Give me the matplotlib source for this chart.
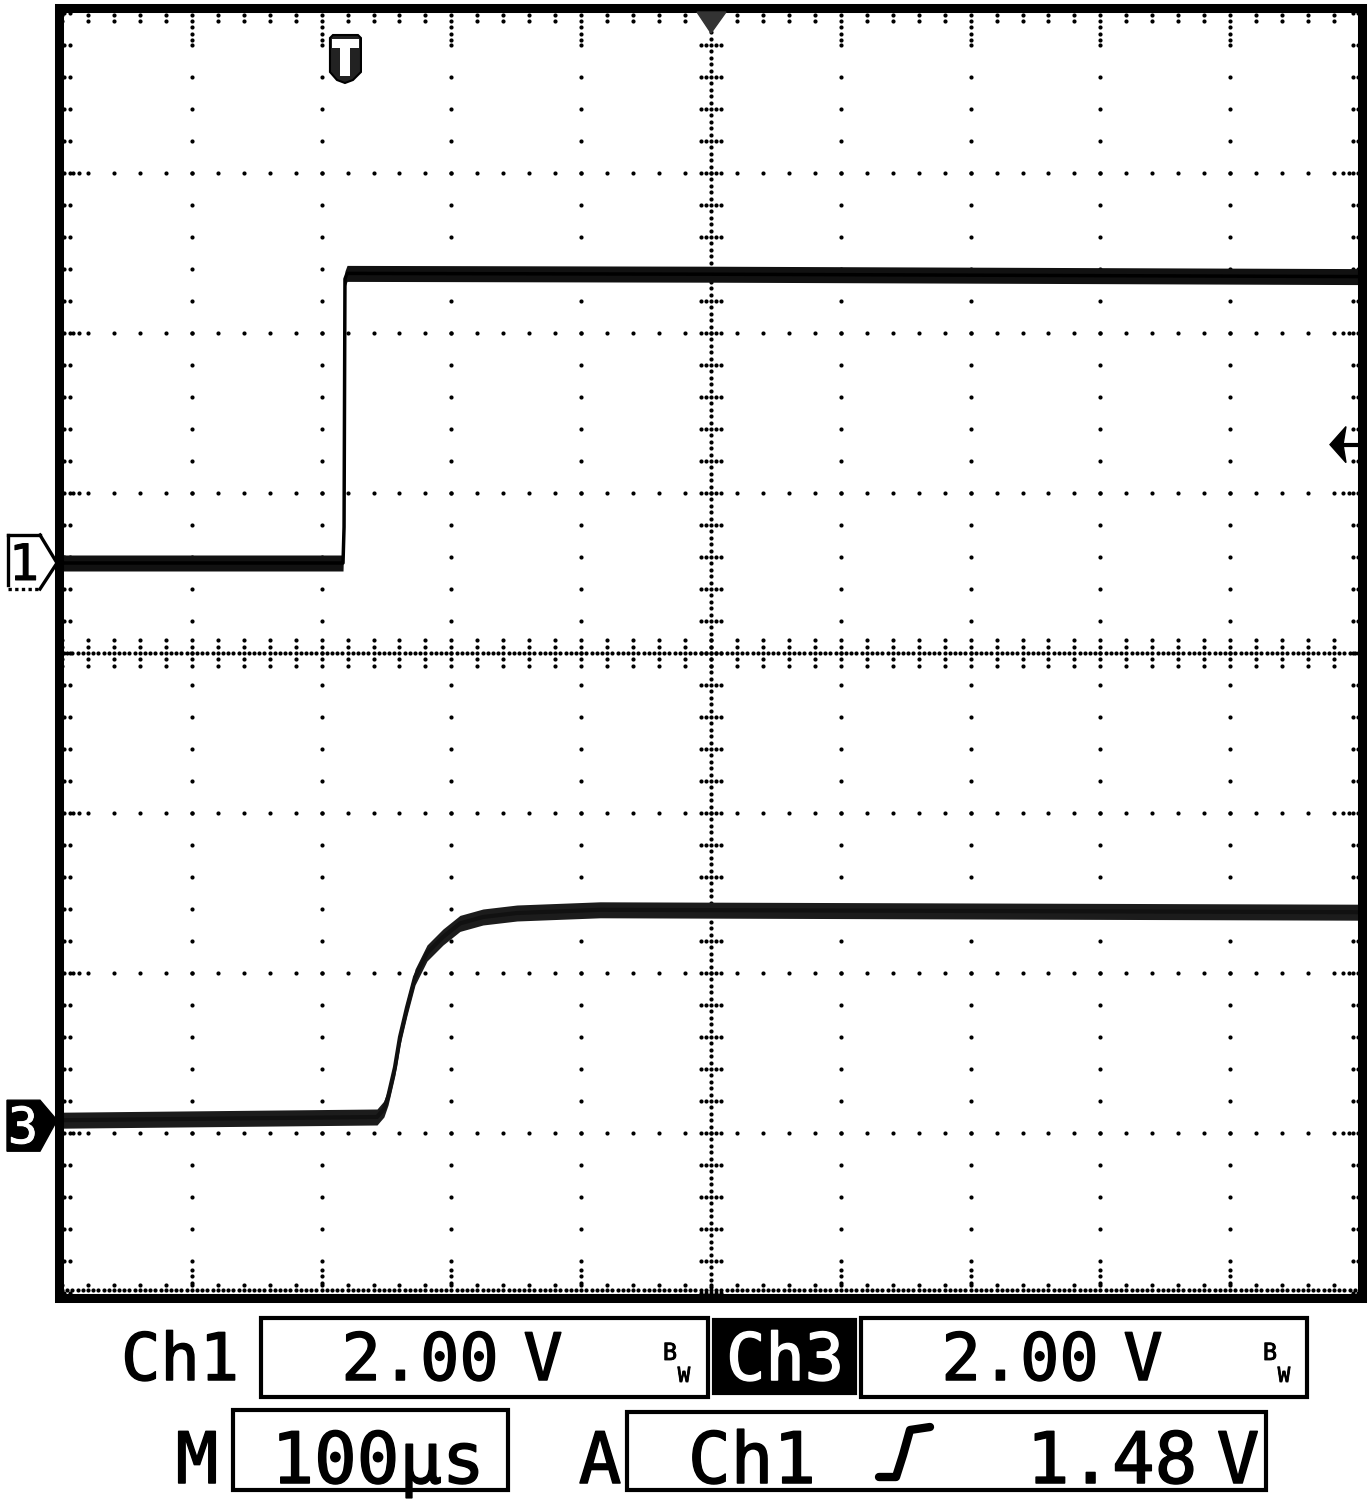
import numpy as np
import matplotlib.pyplot as plt
import matplotlib.patheffects as pe
from matplotlib.patches import Rectangle, Polygon
from matplotlib.lines import Line2D

# values (time in microseconds, volts)
ch1_t_us = [-500, -283.5, -282.7, -282.0, -280.4, 0, 500]
ch1_v = [0.0, 0.0, 0.45, 3.55, 3.62, 3.61, 3.58]

ch3_t_us = [-500, -257.3, -252.0, -248.8, -243.5, -239.6, -234.2, -228.0,
            -218.8, -206.5, -193.4, -175.7, -149.5, -85.5, 500]
ch3_v = [0.0, 0.04, 0.14, 0.29, 0.66, 1.04, 1.41, 1.79,
         2.09, 2.29, 2.46, 2.54, 2.59, 2.63, 2.60]

volts_per_div = 2.0
timebase_us = 100
ch1_ground_div = 0.5625
ch3_ground_div = -2.92
trigger_level_v = 1.48
trigger_time_us = -282.0

W, H = 1372, 1500
MONO = 'DejaVu Sans Mono'


def P(x, y):
    # pixel (from top-left) -> figure fraction
    return (x / W, 1 - y / H)


fig = plt.figure(figsize=(W / 100, H / 100), dpi=100)
ax = fig.add_axes([62 / W, 1 - 1293 / H, (1360 - 62) / W, (1293 - 13) / H])
ax.set_xlim(-5 * timebase_us, 5 * timebase_us)
ax.set_ylim(-4, 4)
ax.axis('off')


def data_px(t, d):
    x, y = ax.transData.transform((t, d))
    return x, H - y


# ---- graticule dots ----
us_px = timebase_us / 129.8
div_px = 1 / 160.0
minor_x = np.arange(-500, 501, 20)
minor_y = np.round(np.arange(-4, 4.001, 0.2), 3)
pts = []
for xm in range(-400, 401, 100):
    if xm == 0:
        continue
    for y in minor_y[1:-1]:
        pts.append((xm, y))
    for k in range(1, 4):
        pts.append((xm, 4 - (1.25 + k) * 6.4 * div_px))
        pts.append((xm, -4 + (0.6 + k) * 6.4 * div_px))
for ym in range(-3, 4):
    if ym == 0:
        continue
    for x in minor_x[1:-1]:
        pts.append((x, ym))
    for k in range(1, 3):
        pts.append((-500 + (6.2 + 5.2 * k) * us_px, ym))
        pts.append((500 - (6.2 + 5.2 * k) * us_px, ym))
# center cross
for y in np.arange(-4, 4.0001, 0.04):
    pts.append((0, y))
for x in np.arange(-500, 500.001, 4):
    pts.append((x, 0))
for y in minor_y:
    for dx in (-8, -4, 4, 8):
        pts.append((dx, y))
for x in minor_x:
    for dy in (-0.08, -0.04, 0.04, 0.08):
        pts.append((x, dy))
# border ticks
for y in minor_y:
    pts.append((-500 + 2.0 * us_px, y))
    pts.append((-500 + 7.5 * us_px, y))
    pts.append((500 - 7.5 * us_px, y))
    pts.append((500 - 2.5 * us_px, y))
for x in minor_x:
    pts.append((x, 4 - 1.6 * div_px))
    pts.append((x, 4 - 8.0 * div_px))
    pts.append((x, -4 + 8.0 * div_px))
for x in np.arange(-500, 500.001, 4):
    pts.append((x, -4 + 3.0 * div_px))
pts = np.array(pts)
ax.scatter(pts[:, 0], pts[:, 1], s=9, c='black', linewidths=0, zorder=2)

# ---- traces ----
band = 0.05
y1 = ch1_ground_div + np.array(ch1_v) / volts_per_div
y3 = ch3_ground_div + np.array(ch3_v) / volts_per_div
ax.fill_between(ch1_t_us, y1 - band, y1 + band, color='#111111', lw=0, zorder=3)
ax.plot(ch1_t_us, y1, color='black', lw=2.5, zorder=4)
ax.fill_between(ch3_t_us, y3 - band, y3 + band, color='#1c1c1c', lw=0, zorder=3)
ax.plot(ch3_t_us, y3, color='#111111', lw=3, zorder=4,
        solid_joinstyle='round')

# ---- frame ----
fig.add_artist(Rectangle(P(59, 1297.5), (1362 - 59) / W, (1297.5 - 8) / H,
                         transform=fig.transFigure, fill=False, lw=6.5,
                         ec='black', zorder=10))

# trigger position marker (top centre)
cx, _ = data_px(0, 4)
fig.add_artist(Polygon([P(cx - 14, 12), P(cx + 15, 12), P(cx, 33)],
                       closed=True, transform=fig.transFigure,
                       fc='#333333', ec='#333333', zorder=11))

# trigger point "T" marker
tx, _ = data_px(trigger_time_us, 4)
shield = [(-15, 38), (-12, 35), (13, 35), (16, 38), (16, 72), (8, 80),
          (0, 83), (-8, 80), (-15, 72)]
fig.add_artist(Polygon([P(tx + a, b) for a, b in shield], closed=True,
                       transform=fig.transFigure, fc='#222222', ec='black',
                       lw=1.5, zorder=11))
fig.add_artist(Rectangle(P(tx - 13, 48), 27 / W, 9 / H, transform=fig.transFigure,
                         fc='white', ec='none', zorder=12))
fig.add_artist(Rectangle(P(tx - 5, 76), 10 / W, 28 / H, transform=fig.transFigure,
                         fc='white', ec='none', zorder=12))

# trigger level arrow (right side)
_, ly = data_px(500, ch1_ground_div + trigger_level_v / volts_per_div)
fig.add_artist(Polygon([P(1330, ly), P(1346, ly - 18), P(1343, ly), P(1346, ly + 18)],
                       closed=True, transform=fig.transFigure, fc='black',
                       ec='black', zorder=11))
fig.add_artist(Line2D([1340 / W, 1359 / W], [1 - ly / H, 1 - ly / H],
                      transform=fig.transFigure, color='black', lw=3, zorder=11))

# channel ground markers
gx, g1 = data_px(-500, ch1_ground_div)
fig.add_artist(Polygon([P(gx - 54, g1 - 28), P(gx - 22, g1 - 28), P(gx - 5, g1),
                        P(gx - 22, g1 + 26), P(gx - 54, g1 + 26)], closed=True,
                       transform=fig.transFigure, fc='white', ec='none', zorder=11))
for (a, b) in [((gx - 54, g1 - 28), (gx - 22, g1 - 28)),
               ((gx - 22, g1 - 28), (gx - 5, g1)),
               ((gx - 5, g1), (gx - 22, g1 + 26)),
               ((gx - 54, g1 - 28), (gx - 54, g1 + 22))]:
    fig.add_artist(Line2D([a[0] / W, b[0] / W], [1 - a[1] / H, 1 - b[1] / H],
                          transform=fig.transFigure, color='black', lw=2.4,
                          zorder=12))
fig.add_artist(Line2D([(gx - 54) / W, (gx - 22) / W], [1 - (g1 + 26) / H] * 2,
                      transform=fig.transFigure, color='black', lw=2.4,
                      ls=(0, (1, 1)), zorder=12))
fig.text(*P(gx - 38, g1 + 17), '1', fontsize=36, family=MONO, ha='center',
         va='baseline', color='black', zorder=13,
         path_effects=[pe.withStroke(linewidth=0.7, foreground='black')])

_, g3 = data_px(-500, ch3_ground_div)
fig.add_artist(Polygon([P(gx - 55, g3 - 20), P(gx - 22, g3 - 20), P(gx - 5, g3),
                        P(gx - 22, g3 + 31), P(gx - 55, g3 + 31)], closed=True,
                       transform=fig.transFigure, fc='black', ec='black',
                       zorder=11))
fig.text(*P(gx - 39, g3 + 23), '3', fontsize=36, family=MONO, ha='center',
         va='baseline', color='white', zorder=13,
         path_effects=[pe.withStroke(linewidth=0.7, foreground='white')])


# ---- readout ----
def box(x0, y0, x1, y1, fill=False):
    fig.add_artist(Rectangle(P(x0, y1), (x1 - x0) / W, (y1 - y0) / H,
                             transform=fig.transFigure, fill=fill,
                             fc='black' if fill else 'none', ec='black', lw=3))


def txt(x, y, s, size, color='black', stroke=1.1):
    fig.text(*P(x, y), s, fontsize=size, family=MONO, ha='center',
             va='baseline', color=color,
             path_effects=[pe.withStroke(linewidth=stroke, foreground=color)])


r1, r2 = 1380, 1483
s1, s2 = 47, 51

txt(180, r1, 'Ch1', s1)
box(261, 1318, 708, 1397)
txt(420, r1, '2.00', s1)
txt(543, r1, 'V', s1)
txt(670, 1360, 'B', 17, stroke=0.6)
txt(684, 1382, 'W', 15, stroke=0.6)

box(714, 1320, 855, 1393, fill=True)
txt(785, r1, 'Ch3', s1, color='white')
box(861, 1318, 1307, 1397)
txt(1020, r1, '2.00', s1)
txt(1143, r1, 'V', s1)
txt(1270, 1360, 'B', 17, stroke=0.6)
txt(1284, 1382, 'W', 15, stroke=0.6)

txt(197, r2, 'M', s2)
box(233, 1410, 508, 1490)
txt(378, r2, '100µs', s2)
txt(600, r2, 'A', s2)
box(627, 1412, 1266, 1490)
txt(752, r2, 'Ch1', s2)
slope = [(879, 1477), (896, 1477), (903, 1455), (910, 1430), (930, 1427)]
fig.add_artist(Line2D([p[0] / W for p in slope], [1 - p[1] / H for p in slope],
                      transform=fig.transFigure, color='black', lw=6,
                      solid_capstyle='round', solid_joinstyle='round'))
txt(1112, r2, '1.48', s2)
txt(1238, r2, 'V', s2)

fig.savefig('out.png', dpi=100)
